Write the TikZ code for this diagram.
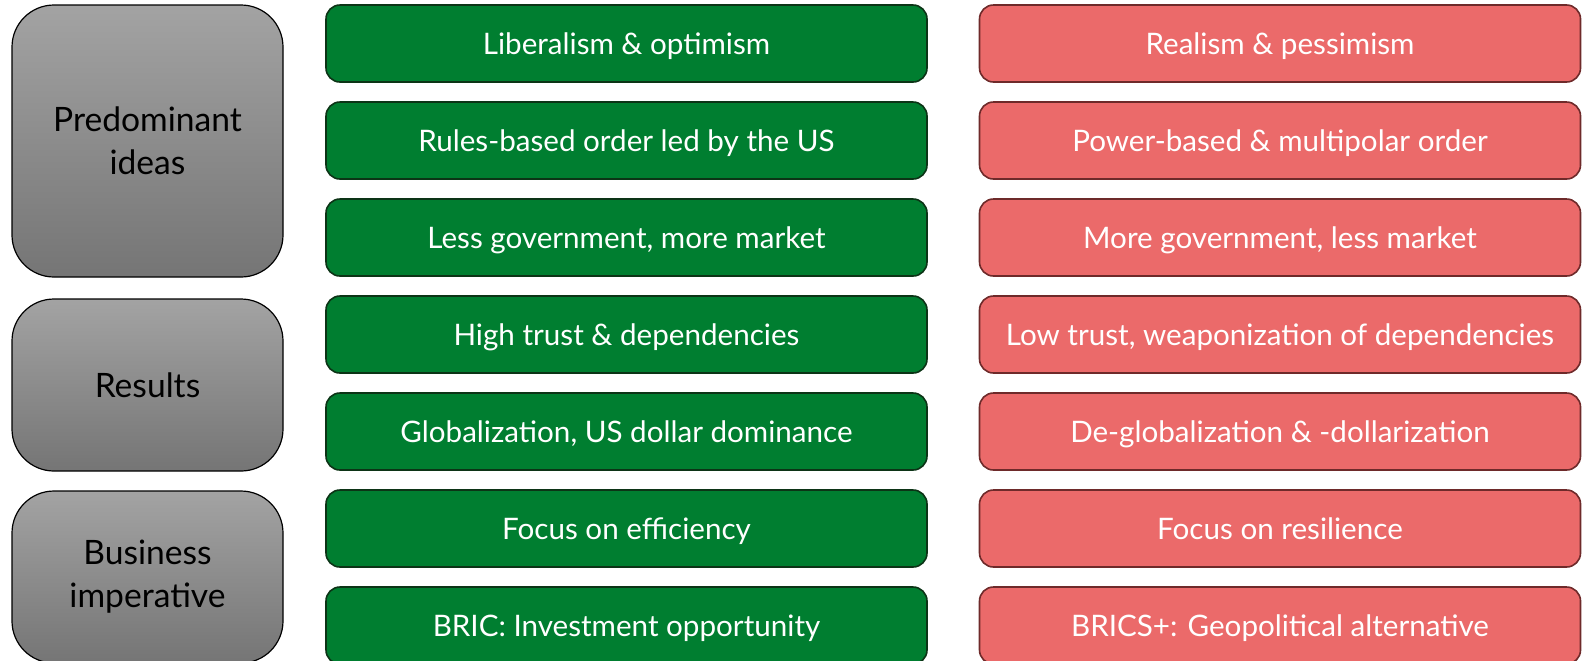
\documentclass[tikz,border=0pt]{standalone}
\usepackage{fontspec}
\setmainfont{Lato}

\definecolor{oldgreen}{RGB}{0,126,48}
\definecolor{oldedge}{RGB}{12,52,22}
\definecolor{newred}{RGB}{235,106,106}
\definecolor{newedge}{RGB}{110,42,42}
\definecolor{greytop}{RGB}{163,163,163}
\definecolor{greybot}{RGB}{117,117,117}

\begin{document}
\begin{tikzpicture}[x=0.5pt, y=-0.5pt,
  topic/.style={draw=black, line width=0.6pt, rounded corners=21pt,
    top color=greytop, bottom color=greybot, minimum width=135.5pt,
    inner sep=0pt, align=center, font=\fontsize{16.8}{21.5}\selectfont},
  oldbox/.style={draw=oldedge, line width=0.8pt, fill=oldgreen, rounded corners=7pt,
    minimum width=300.5pt, minimum height=38.5pt, inner sep=0pt, text depth=0pt,
    text=white, font=\fontsize{14.8}{17}\selectfont},
  newbox/.style={oldbox, draw=newedge, fill=newred}]
\useasboundingbox (0,0) rectangle (1583,660);
\clip (0,0) rectangle (1583,660);

% row headings
\node[topic, minimum height=136pt] (ideas) at (147.5,141) {Predominant\\ideas};
\node[topic, minimum height=86pt] (results) at (147.5,385) {Results};
\node[topic, minimum height=86pt] (business) at (147.5,577) {Business\\imperative};

% before
\node[oldbox] (old1) at (626.5,43.5) {Liberalism \& optimism};
\node[oldbox] (old2) at (626.5,140.5) {Rules-based order led by the US};
\node[oldbox] (old3) at (626.5,237.5) {Less government, more market};
\node[oldbox] (old4) at (626.5,334.5) {High trust \& dependencies};
\node[oldbox] (old5) at (626.5,431.5) {Globalization, US dollar dominance};
\node[oldbox] (old6) at (626.5,528.5) {Focus on efficiency};
\node[oldbox] (old7) at (626.5,625.5) {BRIC: Investment opportunity};

% now
\node[newbox] (new1) at (1280,43.5) {Realism \& pessimism};
\node[newbox] (new2) at (1280,140.5) {Power-based \& multipolar order};
\node[newbox] (new3) at (1280,237.5) {More government, less market};
\node[newbox] (new4) at (1280,334.5) {Low trust, weaponization of dependencies};
\node[newbox] (new5) at (1280,431.5) {De-globalization \& -dollarization};
\node[newbox] (new6) at (1280,528.5) {Focus on resilience};
\node[newbox] (new7) at (1280,625.5) {BRICS+: Geopolitical alternative};
\end{tikzpicture}
\end{document}
